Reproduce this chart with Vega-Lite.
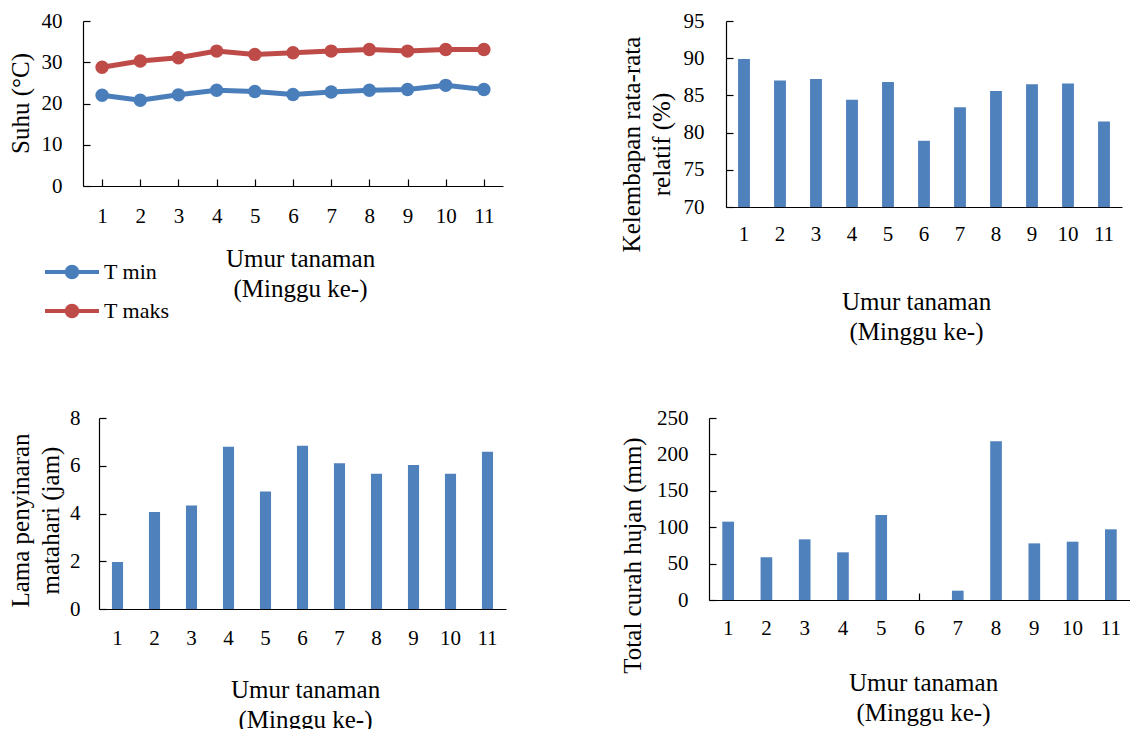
{
  "$schema": "https://vega.github.io/schema/vega-lite/v6.json",
  "background": "white",
  "padding": {"left": 8, "top": 10, "right": 0, "bottom": 0},
  "datasets": {
    "suhu": [
      {"minggu": 1, "seri": "T min", "suhu": 22.0},
      {"minggu": 2, "seri": "T min", "suhu": 20.8},
      {"minggu": 3, "seri": "T min", "suhu": 22.1},
      {"minggu": 4, "seri": "T min", "suhu": 23.2},
      {"minggu": 5, "seri": "T min", "suhu": 22.9},
      {"minggu": 6, "seri": "T min", "suhu": 22.2},
      {"minggu": 7, "seri": "T min", "suhu": 22.8},
      {"minggu": 8, "seri": "T min", "suhu": 23.2},
      {"minggu": 9, "seri": "T min", "suhu": 23.4},
      {"minggu": 10, "seri": "T min", "suhu": 24.4},
      {"minggu": 11, "seri": "T min", "suhu": 23.4},
      {"minggu": 1, "seri": "T maks", "suhu": 28.8},
      {"minggu": 2, "seri": "T maks", "suhu": 30.3},
      {"minggu": 3, "seri": "T maks", "suhu": 31.1},
      {"minggu": 4, "seri": "T maks", "suhu": 32.7},
      {"minggu": 5, "seri": "T maks", "suhu": 31.9},
      {"minggu": 6, "seri": "T maks", "suhu": 32.3},
      {"minggu": 7, "seri": "T maks", "suhu": 32.7},
      {"minggu": 8, "seri": "T maks", "suhu": 33.1},
      {"minggu": 9, "seri": "T maks", "suhu": 32.7},
      {"minggu": 10, "seri": "T maks", "suhu": 33.1},
      {"minggu": 11, "seri": "T maks", "suhu": 33.1}
    ],
    "cuaca": [
      {"minggu": 1, "rh": 89.9, "sun": 1.97, "rain": 107.6},
      {"minggu": 2, "rh": 87.0, "sun": 4.06, "rain": 58.6},
      {"minggu": 3, "rh": 87.2, "sun": 4.33, "rain": 83.3},
      {"minggu": 4, "rh": 84.4, "sun": 6.80, "rain": 65.5},
      {"minggu": 5, "rh": 86.8, "sun": 4.92, "rain": 116.8},
      {"minggu": 6, "rh": 78.9, "sun": 6.84, "rain": 0},
      {"minggu": 7, "rh": 83.4, "sun": 6.10, "rain": 12.8},
      {"minggu": 8, "rh": 85.6, "sun": 5.66, "rain": 218},
      {"minggu": 9, "rh": 86.5, "sun": 6.03, "rain": 77.8},
      {"minggu": 10, "rh": 86.6, "sun": 5.66, "rain": 80.1},
      {"minggu": 11, "rh": 81.5, "sun": 6.59, "rain": 97.1}
    ]
  },
  "config": {
    "font": "Liberation Serif",
    "view": {"stroke": null},
    "axis": {
      "grid": false,
      "domainColor": "black",
      "tickColor": "black",
      "domainWidth": 1.2,
      "tickWidth": 1.2,
      "tickSize": -7,
      "labelFont": "Liberation Serif",
      "titleFont": "Liberation Serif",
      "labelFontSize": 21,
      "titleFontSize": 25,
      "titleFontWeight": "normal",
      "labelColor": "black",
      "titleColor": "black",
      "titleLineHeight": 30
    },
    "axisX": {"labelAngle": 0, "labelBaseline": "middle", "titleBaseline": "middle", "titleAlign": "center"},
    "axisY": {"titleBaseline": "middle", "titleAngle": 270, "titleAlign": "center"}
  },
  "spacing": 63,
  "vconcat": [
    {
      "spacing": 116,
      "hconcat": [
        {
          "width": 420,
          "height": 165,
          "data": {"name": "suhu"},
          "mark": {"type": "line", "strokeWidth": 5, "point": {"filled": true, "size": 180}},
          "encoding": {
            "x": {
              "field": "minggu", "type": "ordinal",
              "scale": {"type": "point", "padding": 0.5},
              "axis": {"title": ["Umur tanaman", "(Minggu ke-)"], "labelPadding": 37, "titleX": 217, "titleY": 72}
            },
            "y": {
              "field": "suhu", "type": "quantitative",
              "scale": {"domain": [0, 40], "nice": false},
              "axis": {"values": [0, 10, 20, 30, 40], "title": "Suhu (°C)", "labelPadding": 28, "titleX": -63, "titleY": 82}
            },
            "color": {
              "field": "seri", "type": "nominal",
              "scale": {"domain": ["T min", "T maks"], "range": ["#4A7EBB", "#BE4B48"]},
              "legend": {
                "title": null,
                "orient": "none",
                "legendX": -28,
                "legendY": 234,
                "padding": 0,
                "symbolType": "M-1.8,0H1.8M0.35,0A0.35,0.35,0,1,1,-0.35,0A0.35,0.35,0,1,1,0.35,0Z",
                "symbolSize": 900,
                "symbolStrokeWidth": 4,
                "labelOffset": 15,
                "labelFont": "Liberation Serif",
                "labelFontSize": 22,
                "labelColor": "black",
                "rowPadding": 8,
                "encode": {
                  "symbols": {
                    "update": {
                      "fill": {"scale": "color", "field": "value"},
                      "stroke": {"scale": "color", "field": "value"},
                      "opacity": {"value": 1}
                    }
                  }
                }
              }
            }
          }
        },
        {
          "width": 396,
          "height": 186,
          "data": {"name": "cuaca"},
          "mark": {"type": "bar", "color": "#4F81BD"},
          "encoding": {
            "x": {
              "field": "minggu", "type": "ordinal",
              "scale": {"paddingInner": 0.67, "paddingOuter": 0.335},
              "axis": {"title": ["Umur tanaman", "(Minggu ke-)"], "labelPadding": 34, "titleX": 190, "titleY": 94}
            },
            "y": {
              "field": "rh", "type": "quantitative",
              "scale": {"domain": [70, 95], "nice": false, "zero": false},
              "axis": {"values": [70, 75, 80, 85, 90, 95], "title": ["Kelembapan rata-rata", "relatif (%)"], "labelPadding": 29, "titleX": -95, "titleY": 123}
            },
            "y2": {"datum": 70}
          }
        }
      ]
    },
    {
      "spacing": 113,
      "hconcat": [
        {
          "width": 423,
          "height": 191,
          "data": {"name": "cuaca"},
          "mark": {"type": "bar", "color": "#4F81BD"},
          "encoding": {
            "x": {
              "field": "minggu", "type": "ordinal",
              "scale": {"paddingInner": 0.7, "paddingOuter": 0.35, "range": [16, 423]},
              "axis": {"title": ["Umur tanaman", "(Minggu ke-)"], "labelPadding": 36, "titleX": 222, "titleY": 80}
            },
            "y": {
              "field": "sun", "type": "quantitative",
              "scale": {"domain": [0, 8], "nice": false},
              "axis": {"values": [0, 2, 4, 6, 8], "title": ["Lama  penyinaran", "matahari (jam)"], "labelPadding": 26, "offset": -16, "titleX": -79, "titleY": 102}
            }
          }
        },
        {
          "width": 421,
          "height": 182,
          "data": {"name": "cuaca"},
          "mark": {"type": "bar", "color": "#4F81BD"},
          "encoding": {
            "x": {
              "field": "minggu", "type": "ordinal",
              "scale": {"paddingInner": 0.695, "paddingOuter": 0.3475},
              "axis": {"title": ["Umur tanaman", "(Minggu ke-)"], "labelPadding": 35, "titleX": 214, "titleY": 82}
            },
            "y": {
              "field": "rain", "type": "quantitative",
              "scale": {"domain": [0, 250], "nice": false},
              "axis": {"values": [0, 50, 100, 150, 200, 250], "title": "Total curah hujan (mm)", "labelPadding": 28, "titleX": -77, "titleY": 137}
            }
          }
        }
      ]
    }
  ]
}
